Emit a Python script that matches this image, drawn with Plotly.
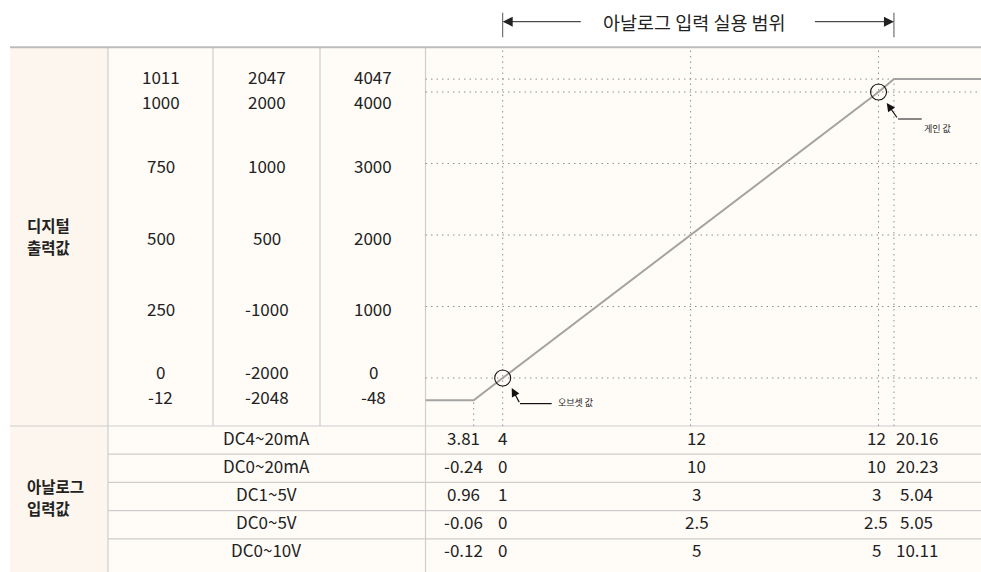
import plotly.graph_objects as go

W, H = 981, 572
FONT = "Noto Sans CJK KR"
INK = "#222222"
GRID = "#8f8f8f"
RULE = "#cdcdcd"
CELL = "#fffcf8"
HEAD = "#fdf6ee"

# ---------------------------------------------------------------- data
# digital output values for the three resolution settings (top to bottom)
digital_levels = [1011, 1000, 750, 500, 250, 0, -12]
digital_0_1000 = ["1011", "1000", "750", "500", "250", "0", "-12"]
digital_pm2000 = ["2047", "2000", "1000", "500", "-1000", "-2000", "-2048"]
digital_0_4000 = ["4047", "4000", "3000", "2000", "1000", "0", "-48"]

# analog input ranges and their values at each characteristic point
analog_ranges = ["DC4~20mA", "DC0~20mA", "DC1~5V", "DC0~5V", "DC0~10V"]
analog_under = ["3.81", "-0.24", "0.96", "-0.06", "-0.12"]
analog_zero = ["4", "0", "1", "0", "0"]
analog_mid = ["12", "10", "3", "2.5", "5"]
analog_full = ["12", "10", "3", "2.5", "5"]
analog_over = ["20.16", "20.23", "5.04", "5.05", "10.11"]

# section headings (one entry per text line)
digital_heading = ["디지털", "출력값"]
analog_heading = ["아날로그", "입력값"]

# conversion characteristic of the DC4~20mA input (mA -> digital, 0~1000)
input_mA = [3.81, 4, 12, 20, 20.16]
output_digital = [-12, 0, 500, 1000, 1011]
NOMINAL_IN = (4, 20)
NOMINAL_OUT = (0, 1000)


def stretch(v, lo, hi, k_lo=6.5, k_hi=4.1):
    """Enlarge the small under/over-range margins so they stay visible."""
    if v < lo:
        return lo - (lo - v) * k_lo
    if v > hi:
        return hi + (v - hi) * k_hi
    return v


def sx(v):
    return stretch(v, *NOMINAL_IN)


def sy(v):
    return stretch(v, *NOMINAL_OUT)


# page pixel -> paper fraction
def px(x):
    return x / W


def py(y):
    return 1 - y / H


# chart panel placement and axis ranges (mA / digital units)
CHART_L, CHART_T, CHART_B = 425.5, 48, 426
X_RANGE = [0.7135, 24.362]
Y_RANGE = [-167.8, 1153.8]

fig = go.Figure()

# ---------------------------------------------------------------- table frame
shapes = []


def rect(x0, y0, x1, y1, color):
    shapes.append(dict(type="rect", xref="paper", yref="paper",
                       x0=px(x0), x1=px(x1), y0=py(y1), y1=py(y0),
                       fillcolor=color, line=dict(width=0), layer="below"))


def rule(x0, y0, x1, y1, color=RULE, width=1.2):
    shapes.append(dict(type="line", xref="paper", yref="paper",
                       x0=px(x0), x1=px(x1), y0=py(y0), y1=py(y1),
                       line=dict(color=color, width=width), layer="below"))


rect(108, 48, 981, 572, CELL)
rect(10, 48, 108, 572, HEAD)
for xv in (108, 213, 320):
    rule(xv, 48, xv, 426 if xv != 108 else 572)
rule(425.5, 48, 425.5, 572)
rule(10, 426, 981, 426)
ROW_H = 28.2
for i in range(1, len(analog_ranges)):
    yv = 426 + ROW_H * i
    rule(108, yv, 981, yv)
rule(10, 47.3, 981, 47.3, color="#bcbcbc", width=2)

# ---------------------------------------------------------------- dotted grid
DOT = dict(color=GRID, width=1, dash="1.5px,4px")
for lv in digital_levels[1:6]:
    shapes.append(dict(type="line", xref="x domain", yref="y",
                       x0=0, x1=1, y0=sy(lv), y1=sy(lv), line=DOT, layer="below"))
shapes.append(dict(type="line", xref="x", yref="y",
                   x0=X_RANGE[0], x1=sx(input_mA[-1]),
                   y0=sy(output_digital[-1]), y1=sy(output_digital[-1]),
                   line=DOT, layer="below"))
for xv in input_mA[1:4]:
    shapes.append(dict(type="line", xref="x", yref="y domain",
                       x0=sx(xv), x1=sx(xv), y0=0, y1=1, line=DOT, layer="below"))
for xv, yv in ((input_mA[0], output_digital[0]), (input_mA[-1], output_digital[-1])):
    shapes.append(dict(type="line", xref="x", yref="y",
                       x0=sx(xv), x1=sx(xv), y0=Y_RANGE[0], y1=sy(yv),
                       line=DOT, layer="below"))

# ---------------------------------------------------------------- characteristic line
line_x = [X_RANGE[0]] + [sx(v) for v in input_mA] + [X_RANGE[1]]
line_y = [sy(output_digital[0])] + [sy(v) for v in output_digital] + [sy(output_digital[-1])]
fig.add_trace(go.Scatter(x=line_x, y=line_y, mode="lines",
                         line=dict(color="#a3a3a3", width=2), hoverinfo="skip"))

# offset / gain markers
marks_x = [sx(input_mA[1]), sx(input_mA[3])]
marks_y = [sy(output_digital[1]), sy(output_digital[3])]
fig.add_trace(go.Scatter(x=marks_x, y=marks_y, mode="markers",
                         marker=dict(symbol="circle-open", size=16, color="#111111",
                                     line=dict(color="#111111", width=1.1)),
                         hoverinfo="skip"))

annotations = []

# leaders for offset / gain labels
for (mx, my), label, tip, bend, run, text_at in (
    ((marks_x[0], marks_y[0]), "오브셋 값", (9, -10), (8.3, 15.6), (17.3, 49), (53.5, -24)),
    ((marks_x[1], marks_y[1]), "게인 값", (8.2, -11), (11.3, 16), (19.5, 43.2), (43.5, -37)),
):
    annotations.append(dict(x=mx, y=my, xref="x", yref="y", text="",
                            xshift=tip[0], yshift=tip[1],
                            showarrow=True, arrowhead=2, arrowsize=1.4,
                            arrowwidth=1.2, arrowcolor="#111111",
                            ax=bend[0], ay=bend[1], standoff=0))
    lead_y = tip[1] - bend[1]
    shapes.append(dict(type="line", xref="x", yref="y",
                       xsizemode="pixel", ysizemode="pixel",
                       xanchor=mx, yanchor=my,
                       x0=run[0], x1=run[1], y0=lead_y, y1=lead_y,
                       line=dict(color="#111111", width=1.2)))
    annotations.append(dict(x=mx, y=my, xref="x", yref="y", text=label,
                            xshift=text_at[0], yshift=text_at[1],
                            xanchor="left", yanchor="middle", showarrow=False,
                            font=dict(family=FONT, size=9, color=INK)))

# ---------------------------------------------------------------- range header
for xv in (input_mA[1], input_mA[-1]):
    shapes.append(dict(type="line", xref="x", yref="paper",
                       x0=sx(xv), x1=sx(xv), y0=py(37.3), y1=py(12.7),
                       line=dict(color="#555555", width=1)))
annotations.append(dict(x=sx(input_mA[1]), y=py(21.7), xref="x", yref="paper",
                        text="", showarrow=True, arrowhead=2, arrowsize=2,
                        arrowwidth=1, arrowcolor="#222222", ax=79.6, ay=0, standoff=0))
annotations.append(dict(x=sx(input_mA[-1]), y=py(21.7), xref="x", yref="paper",
                        text="", showarrow=True, arrowhead=2, arrowsize=2,
                        arrowwidth=1, arrowcolor="#222222", ax=-80.5, ay=0, standoff=0))
annotations.append(dict(x=sx(input_mA[2]), y=py(22), xref="x", yref="paper",
                        xshift=4, xanchor="center", yanchor="middle",
                        text="아날로그 입력 실용 범위", showarrow=False,
                        font=dict(family=FONT, size=18.5, color=INK)))

# ---------------------------------------------------------------- digital column
TXT = dict(family=FONT, size=17, color=INK)
LINE_GAP = 25
row_groups = [((0, 1), -3.5), ((2,), -2.5), ((3,), -2.5), ((4,), -1.5), ((5, 6), 5.5)]
for col_x, values in zip((160.5, 266.5, 373), (digital_0_1000, digital_pm2000, digital_0_4000)):
    for idx, shift in row_groups:
        yv = sum(sy(digital_levels[i]) for i in idx) / len(idx)
        for k, i in enumerate(idx):
            annotations.append(dict(x=px(col_x), y=yv, xref="paper", yref="y",
                                    xanchor="center", yanchor="middle",
                                    yshift=shift + ((len(idx) - 1) / 2 - k) * LINE_GAP,
                                    text=values[i], showarrow=False, font=TXT))

# section headings in the left column
HEAD_FONT = dict(family=FONT, size=15.5, color=INK)
HEAD_GAP = 22.5
for lines, centre in ((digital_heading, 236), (analog_heading, 497)):
    for k, word in enumerate(lines):
        yv = centre + (k - (len(lines) - 1) / 2) * HEAD_GAP
        annotations.append(dict(x=px(25), y=py(yv), xref="paper", yref="paper",
                                xanchor="left", yanchor="middle", showarrow=False,
                                text=f"<b>{word}</b>", font=HEAD_FONT))

# ---------------------------------------------------------------- analog rows
col_shift = [-10.5, 0, 6, -2.5, 23]
columns = [analog_under, analog_zero, analog_mid, analog_full, analog_over]
for r, name in enumerate(analog_ranges):
    yc = py(426 + ROW_H * (r + 0.5) - 3)
    annotations.append(dict(x=px(266), y=yc, xref="paper", yref="paper",
                            xanchor="center", yanchor="middle",
                            text=name, showarrow=False, font=TXT))
    for c, vals in enumerate(columns):
        annotations.append(dict(x=sx(input_mA[c]), y=yc, xref="x", yref="paper",
                                xanchor="center", yanchor="middle",
                                xshift=col_shift[c], text=vals[r],
                                showarrow=False, font=TXT))

fig.update_layout(
    width=W, height=H,
    margin=dict(l=0, r=0, t=0, b=0),
    paper_bgcolor="white",
    plot_bgcolor="rgba(0,0,0,0)",
    showlegend=False,
    shapes=shapes,
    annotations=annotations,
    xaxis=dict(domain=[px(CHART_L), 1], range=X_RANGE, visible=False, fixedrange=True),
    yaxis=dict(domain=[py(CHART_B), py(CHART_T)], range=Y_RANGE, visible=False, fixedrange=True),
)

fig.write_html("out.html")
